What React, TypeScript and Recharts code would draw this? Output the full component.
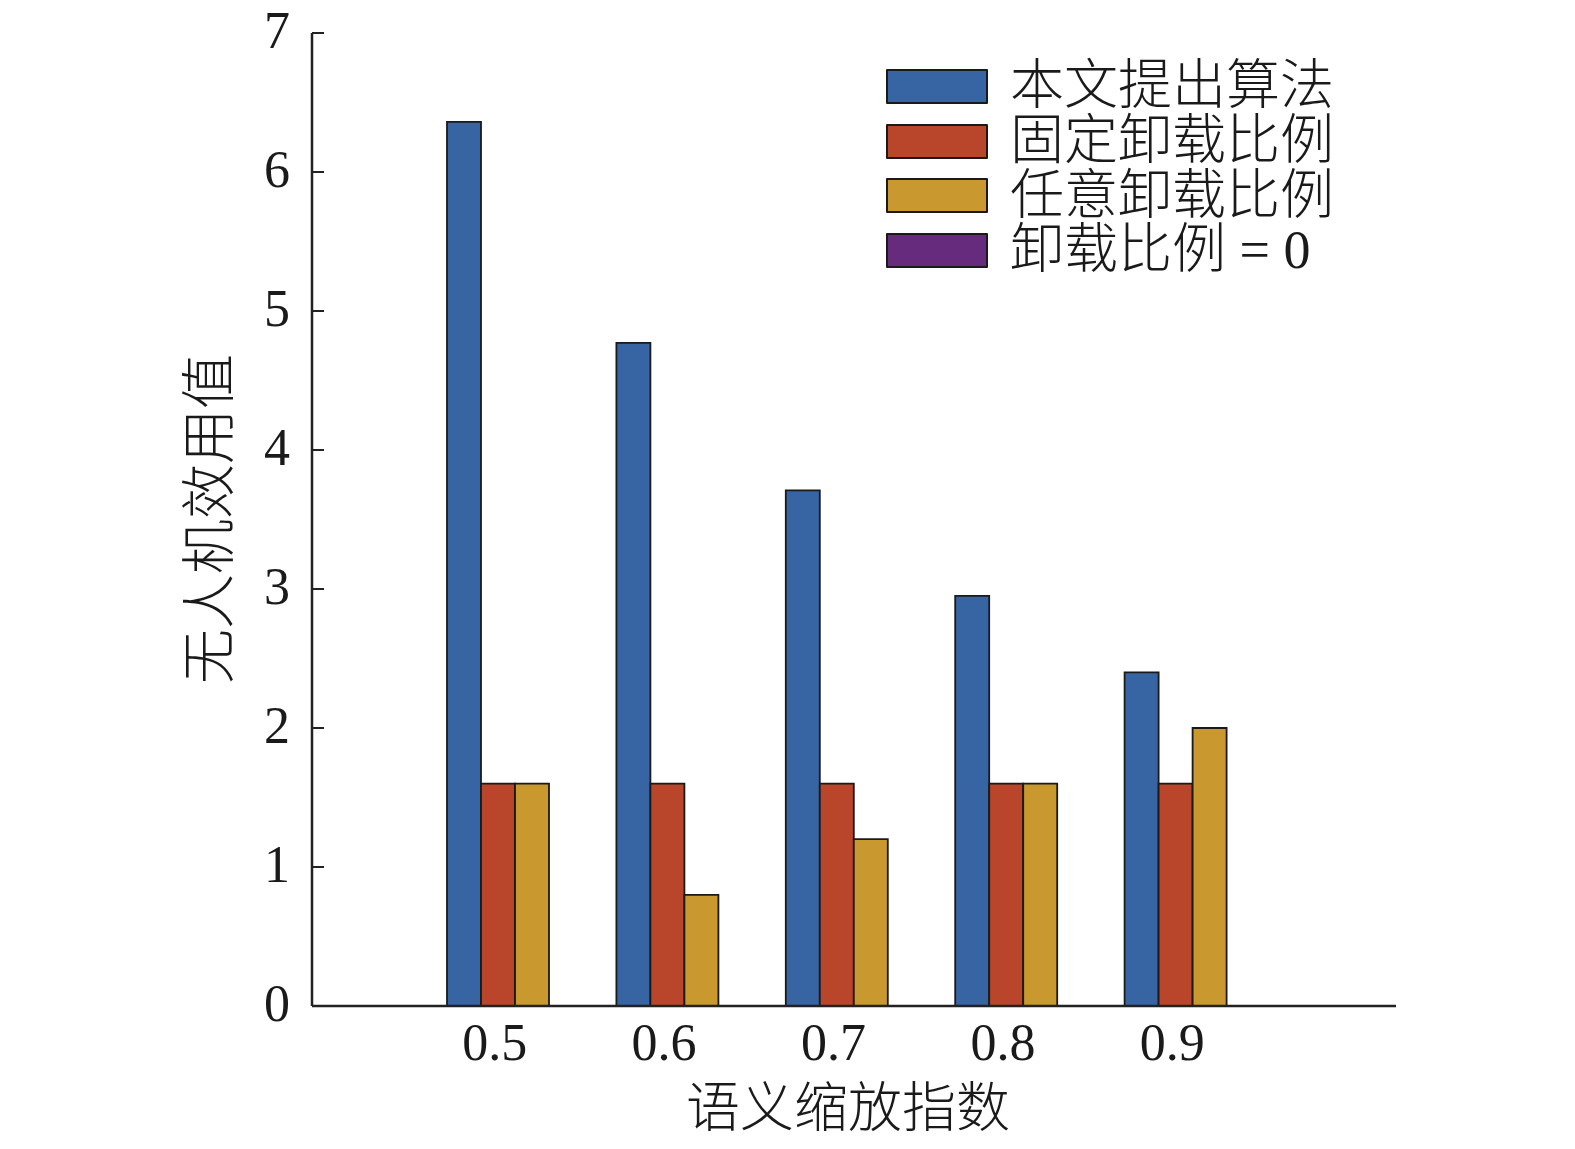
import React from 'react';
import { BarChart, Bar, XAxis, YAxis, Legend } from 'recharts';

const categories = ['0.5', '0.6', '0.7', '0.8', '0.9'];
const proposed = [6.36, 4.77, 3.71, 2.95, 2.4];
const fixedRatio = [1.6, 1.6, 1.6, 1.6, 1.6];
const randomRatio = [1.6, 0.8, 1.2, 1.6, 2.0];
const zeroRatio = [0, 0, 0, 0, 0];
const yTicks = [0, 1, 2, 3, 4, 5, 6, 7];

const seriesNames = ['本文提出算法', '固定卸载比例', '任意卸载比例', '卸载比例 = 0'];
const seriesColors = ['#3764a3', '#b9462a', '#c9982f', '#672b7d'];
const seriesKeys = ['proposed', 'fixedRatio', 'randomRatio', 'zeroRatio'];

const data = categories.map((c, i) => ({
  name: c,
  proposed: proposed[i],
  fixedRatio: fixedRatio[i],
  randomRatio: randomRatio[i],
  zeroRatio: zeroRatio[i],
}));

const FONT = '"Liberation Serif", "Times New Roman", "Noto Sans CJK SC", serif';
const CJK_FONT = '"Liberation Serif", "Noto Sans CJK SC", serif';
const TEXT = '#1a1a1a';

const YTick = (props: any) => {
  const { x, y, payload } = props;
  return (
    <g>
      <line x1={x} y1={y} x2={x + 12} y2={y} stroke="#222" strokeWidth={2} />
      <text x={x - 22} y={y + 15} textAnchor="end" fontFamily={FONT} fontSize={52} fill={TEXT}>
        {payload.value}
      </text>
    </g>
  );
};

const XTick = (props: any) => {
  const { x, y, payload } = props;
  return (
    <text x={x - 20} y={y + 54} textAnchor="middle" fontFamily={FONT} fontSize={52} fill={TEXT}>
      {payload.value}
    </text>
  );
};

const LegendContent = () => (
  <div style={{ display: 'flex', flexDirection: 'column', width: 540 }}>
    {seriesNames.map((n, i) => (
      <div key={n} style={{ display: 'flex', alignItems: 'center', height: 54.7 }}>
        <div
          style={{
            width: 98,
            height: 31,
            background: seriesColors[i],
            border: '2px solid #1a1a1a',
            borderRadius: 1,
            flexShrink: 0,
          }}
        />
        <span
          style={{
            marginLeft: 22,
            fontFamily: CJK_FONT,
            fontSize: 54,
            fontWeight: 300,
            color: TEXT,
            lineHeight: '54px',
            whiteSpace: 'nowrap',
          }}
        >
          {n}
        </span>
      </div>
    ))}
  </div>
);

export default function App() {
  return (
    <div style={{ position: 'absolute', left: 0, top: 0, width: 1575, height: 1149, background: '#fff' }}>
      <BarChart
        width={1575}
        height={1149}
        data={data}
        margin={{ top: 33, right: 179, bottom: 83, left: 212 }}
        barGap={0}
      >
        <XAxis
          dataKey="name"
          type="category"
          padding={{ left: 118, right: 119 }}
          tickLine={false}
          tickSize={0}
          tickMargin={0}
          height={60}
          axisLine={{ stroke: '#222', strokeWidth: 2.5 }}
          tick={<XTick />}
          interval={0}
          label={() => (
            <text x={848} y={1127} textAnchor="middle" fontFamily={CJK_FONT} fontSize={54} fontWeight={300} fill={TEXT}>
              语义缩放指数
            </text>
          )}
        />
        <YAxis
          type="number"
          domain={[0, 7]}
          ticks={yTicks}
          interval={0}
          width={100}
          tickLine={false}
          tickSize={0}
          tickMargin={0}
          axisLine={{ stroke: '#222', strokeWidth: 2.5 }}
          tick={<YTick />}
          label={() => (
            <text
              x={228}
              y={519}
              transform="rotate(-90 228 519)"
              textAnchor="middle"
              fontFamily={CJK_FONT}
              fontSize={55}
              fontWeight={300}
              fill={TEXT}
            >
              无人机效用值
            </text>
          )}
        />
        <Legend
          content={<LegendContent />}
          wrapperStyle={{ position: 'absolute', left: 886, top: 59, width: 0, height: 0, overflow: 'visible' }}
        />
        {seriesKeys.map((k, i) => (
          <Bar
            key={k}
            dataKey={k}
            name={seriesNames[i]}
            fill={seriesColors[i]}
            stroke="#1a1a1a"
            strokeWidth={1.8}
            barSize={34}
            isAnimationActive={false}
          />
        ))}
      </BarChart>
    </div>
  );
}
